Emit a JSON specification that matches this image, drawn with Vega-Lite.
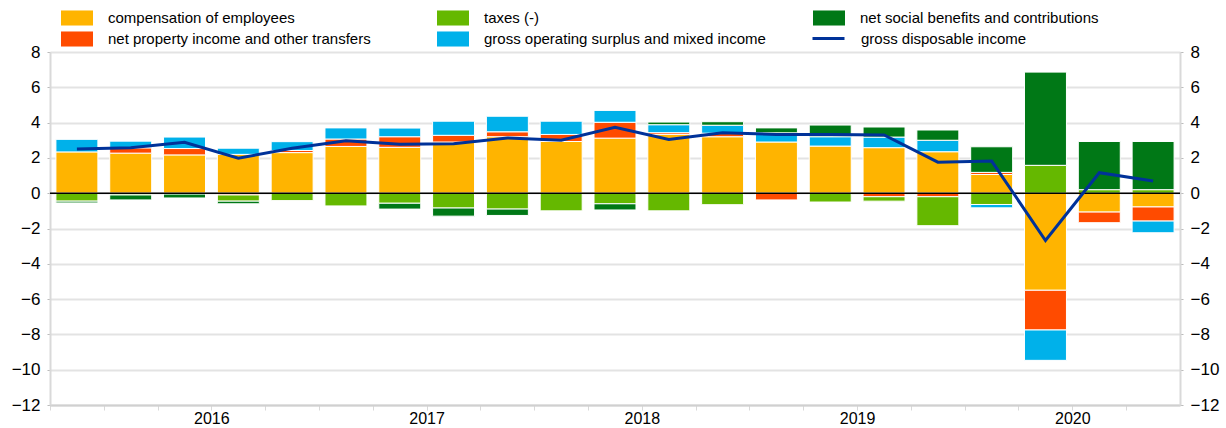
{
  "$schema": "https://vega.github.io/schema/vega-lite/v6.json",
  "width": 1130,
  "height": 353,
  "autosize": {"type": "none"},
  "padding": {"left": 50, "top": 52, "right": 46, "bottom": 23},
  "config": {"font": "Liberation Sans", "view": {"stroke": null}},
  "datasets": {
    "bars": [
      {"q": "2015Q4", "series": "compensation of employees", "k": 1, "value": 2.34},
      {"q": "2015Q4", "series": "taxes (-)", "k": 3, "value": -0.45},
      {"q": "2015Q4", "series": "gross operating surplus and mixed income", "k": 4, "value": 0.71},
      {"q": "2015Q4", "series": "net social benefits and contributions", "k": 5, "value": -0.1},
      {"q": "2016Q1", "series": "compensation of employees", "k": 1, "value": 2.27},
      {"q": "2016Q1", "series": "net property income and other transfers", "k": 2, "value": 0.3},
      {"q": "2016Q1", "series": "taxes (-)", "k": 3, "value": -0.1},
      {"q": "2016Q1", "series": "gross operating surplus and mixed income", "k": 4, "value": 0.38},
      {"q": "2016Q1", "series": "net social benefits and contributions", "k": 5, "value": -0.28},
      {"q": "2016Q2", "series": "compensation of employees", "k": 1, "value": 2.17},
      {"q": "2016Q2", "series": "net property income and other transfers", "k": 2, "value": 0.36},
      {"q": "2016Q2", "series": "taxes (-)", "k": 3, "value": -0.05},
      {"q": "2016Q2", "series": "gross operating surplus and mixed income", "k": 4, "value": 0.65},
      {"q": "2016Q2", "series": "net social benefits and contributions", "k": 5, "value": -0.22},
      {"q": "2016Q3", "series": "compensation of employees", "k": 1, "value": 2.2},
      {"q": "2016Q3", "series": "net property income and other transfers", "k": 2, "value": -0.1},
      {"q": "2016Q3", "series": "taxes (-)", "k": 3, "value": -0.35},
      {"q": "2016Q3", "series": "gross operating surplus and mixed income", "k": 4, "value": 0.35},
      {"q": "2016Q3", "series": "net social benefits and contributions", "k": 5, "value": -0.15},
      {"q": "2016Q4", "series": "compensation of employees", "k": 1, "value": 2.3},
      {"q": "2016Q4", "series": "net property income and other transfers", "k": 2, "value": 0.12},
      {"q": "2016Q4", "series": "taxes (-)", "k": 3, "value": -0.42},
      {"q": "2016Q4", "series": "gross operating surplus and mixed income", "k": 4, "value": 0.5},
      {"q": "2017Q1", "series": "compensation of employees", "k": 1, "value": 2.65},
      {"q": "2017Q1", "series": "net property income and other transfers", "k": 2, "value": 0.42},
      {"q": "2017Q1", "series": "taxes (-)", "k": 3, "value": -0.72},
      {"q": "2017Q1", "series": "gross operating surplus and mixed income", "k": 4, "value": 0.63},
      {"q": "2017Q2", "series": "compensation of employees", "k": 1, "value": 2.6},
      {"q": "2017Q2", "series": "net property income and other transfers", "k": 2, "value": 0.6},
      {"q": "2017Q2", "series": "taxes (-)", "k": 3, "value": -0.57},
      {"q": "2017Q2", "series": "gross operating surplus and mixed income", "k": 4, "value": 0.49},
      {"q": "2017Q2", "series": "net social benefits and contributions", "k": 5, "value": -0.33},
      {"q": "2017Q3", "series": "compensation of employees", "k": 1, "value": 2.9},
      {"q": "2017Q3", "series": "net property income and other transfers", "k": 2, "value": 0.38},
      {"q": "2017Q3", "series": "taxes (-)", "k": 3, "value": -0.84},
      {"q": "2017Q3", "series": "gross operating surplus and mixed income", "k": 4, "value": 0.8},
      {"q": "2017Q3", "series": "net social benefits and contributions", "k": 5, "value": -0.46},
      {"q": "2017Q4", "series": "compensation of employees", "k": 1, "value": 3.2},
      {"q": "2017Q4", "series": "net property income and other transfers", "k": 2, "value": 0.28},
      {"q": "2017Q4", "series": "taxes (-)", "k": 3, "value": -0.9},
      {"q": "2017Q4", "series": "gross operating surplus and mixed income", "k": 4, "value": 0.88},
      {"q": "2017Q4", "series": "net social benefits and contributions", "k": 5, "value": -0.36},
      {"q": "2018Q1", "series": "compensation of employees", "k": 1, "value": 2.93},
      {"q": "2018Q1", "series": "net property income and other transfers", "k": 2, "value": 0.4},
      {"q": "2018Q1", "series": "taxes (-)", "k": 3, "value": -1.0},
      {"q": "2018Q1", "series": "gross operating surplus and mixed income", "k": 4, "value": 0.75},
      {"q": "2018Q2", "series": "compensation of employees", "k": 1, "value": 3.12},
      {"q": "2018Q2", "series": "net property income and other transfers", "k": 2, "value": 0.9},
      {"q": "2018Q2", "series": "taxes (-)", "k": 3, "value": -0.6},
      {"q": "2018Q2", "series": "gross operating surplus and mixed income", "k": 4, "value": 0.67},
      {"q": "2018Q2", "series": "net social benefits and contributions", "k": 5, "value": -0.35},
      {"q": "2018Q3", "series": "compensation of employees", "k": 1, "value": 3.33},
      {"q": "2018Q3", "series": "net property income and other transfers", "k": 2, "value": 0.1},
      {"q": "2018Q3", "series": "taxes (-)", "k": 3, "value": -1.0},
      {"q": "2018Q3", "series": "gross operating surplus and mixed income", "k": 4, "value": 0.45},
      {"q": "2018Q3", "series": "net social benefits and contributions", "k": 5, "value": 0.15},
      {"q": "2018Q4", "series": "compensation of employees", "k": 1, "value": 3.2},
      {"q": "2018Q4", "series": "net property income and other transfers", "k": 2, "value": 0.2},
      {"q": "2018Q4", "series": "taxes (-)", "k": 3, "value": -0.65},
      {"q": "2018Q4", "series": "gross operating surplus and mixed income", "k": 4, "value": 0.45},
      {"q": "2018Q4", "series": "net social benefits and contributions", "k": 5, "value": 0.2},
      {"q": "2019Q1", "series": "compensation of employees", "k": 1, "value": 2.9},
      {"q": "2019Q1", "series": "net property income and other transfers", "k": 2, "value": -0.38},
      {"q": "2019Q1", "series": "gross operating surplus and mixed income", "k": 4, "value": 0.52},
      {"q": "2019Q1", "series": "net social benefits and contributions", "k": 5, "value": 0.28},
      {"q": "2019Q2", "series": "compensation of employees", "k": 1, "value": 2.67},
      {"q": "2019Q2", "series": "taxes (-)", "k": 3, "value": -0.5},
      {"q": "2019Q2", "series": "gross operating surplus and mixed income", "k": 4, "value": 0.53},
      {"q": "2019Q2", "series": "net social benefits and contributions", "k": 5, "value": 0.66},
      {"q": "2019Q3", "series": "compensation of employees", "k": 1, "value": 2.58},
      {"q": "2019Q3", "series": "net property income and other transfers", "k": 2, "value": -0.2},
      {"q": "2019Q3", "series": "taxes (-)", "k": 3, "value": -0.25},
      {"q": "2019Q3", "series": "gross operating surplus and mixed income", "k": 4, "value": 0.6},
      {"q": "2019Q3", "series": "net social benefits and contributions", "k": 5, "value": 0.57},
      {"q": "2019Q4", "series": "compensation of employees", "k": 1, "value": 2.35},
      {"q": "2019Q4", "series": "net property income and other transfers", "k": 2, "value": -0.2},
      {"q": "2019Q4", "series": "taxes (-)", "k": 3, "value": -1.64},
      {"q": "2019Q4", "series": "gross operating surplus and mixed income", "k": 4, "value": 0.65},
      {"q": "2019Q4", "series": "net social benefits and contributions", "k": 5, "value": 0.58},
      {"q": "2020Q1", "series": "compensation of employees", "k": 1, "value": 1.06},
      {"q": "2020Q1", "series": "net property income and other transfers", "k": 2, "value": 0.12},
      {"q": "2020Q1", "series": "taxes (-)", "k": 3, "value": -0.64},
      {"q": "2020Q1", "series": "gross operating surplus and mixed income", "k": 4, "value": -0.19},
      {"q": "2020Q1", "series": "net social benefits and contributions", "k": 5, "value": 1.45},
      {"q": "2020Q2", "series": "compensation of employees", "k": 1, "value": -5.5},
      {"q": "2020Q2", "series": "net property income and other transfers", "k": 2, "value": -2.25},
      {"q": "2020Q2", "series": "taxes (-)", "k": 3, "value": 1.58},
      {"q": "2020Q2", "series": "gross operating surplus and mixed income", "k": 4, "value": -1.72},
      {"q": "2020Q2", "series": "net social benefits and contributions", "k": 5, "value": 5.28},
      {"q": "2020Q3", "series": "compensation of employees", "k": 1, "value": -1.07},
      {"q": "2020Q3", "series": "net property income and other transfers", "k": 2, "value": -0.6},
      {"q": "2020Q3", "series": "taxes (-)", "k": 3, "value": 0.2},
      {"q": "2020Q3", "series": "net social benefits and contributions", "k": 5, "value": 2.73},
      {"q": "2020Q4", "series": "compensation of employees", "k": 1, "value": -0.78},
      {"q": "2020Q4", "series": "net property income and other transfers", "k": 2, "value": -0.8},
      {"q": "2020Q4", "series": "taxes (-)", "k": 3, "value": 0.2},
      {"q": "2020Q4", "series": "gross operating surplus and mixed income", "k": 4, "value": -0.66},
      {"q": "2020Q4", "series": "net social benefits and contributions", "k": 5, "value": 2.73}
    ],
    "line": [
      {"q": "2015Q4", "gdi": 2.5},
      {"q": "2016Q1", "gdi": 2.57},
      {"q": "2016Q2", "gdi": 2.88},
      {"q": "2016Q3", "gdi": 1.98},
      {"q": "2016Q4", "gdi": 2.55},
      {"q": "2017Q1", "gdi": 2.97},
      {"q": "2017Q2", "gdi": 2.78},
      {"q": "2017Q3", "gdi": 2.8},
      {"q": "2017Q4", "gdi": 3.13},
      {"q": "2018Q1", "gdi": 3.0},
      {"q": "2018Q2", "gdi": 3.73},
      {"q": "2018Q3", "gdi": 3.05},
      {"q": "2018Q4", "gdi": 3.43},
      {"q": "2019Q1", "gdi": 3.33},
      {"q": "2019Q2", "gdi": 3.33},
      {"q": "2019Q3", "gdi": 3.3},
      {"q": "2019Q4", "gdi": 1.76},
      {"q": "2020Q1", "gdi": 1.82},
      {"q": "2020Q2", "gdi": -2.68},
      {"q": "2020Q3", "gdi": 1.16},
      {"q": "2020Q4", "gdi": 0.69}
    ]
  },
  "layer": [
    {
      "data": {"name": "bars"},
      "mark": {"type": "bar", "stroke": "white", "strokeWidth": 1},
      "encoding": {
        "x": {
          "field": "q", "type": "ordinal",
          "scale": {"paddingInner": 0.22, "paddingOuter": 0.11},
          "axis": {
            "title": null, "bandPosition": 0, "tickOffset": -6, "labelOffset": -21, "labelAngle": 0,
            "labelExpr": "indexof(datum.value, 'Q3') > 0 ? substring(datum.value, 0, 4) : ''",
            "tickSize": 5, "tickColor": "#d9d9d9", "domainColor": "#d0d0d0", "domainWidth": 2,
            "labelFontSize": 16, "labelColor": "#000000", "labelPadding": 0, "grid": false
          }
        },
        "y": {
          "field": "value", "type": "quantitative", "stack": "zero",
          "scale": {"domain": [-12, 8], "nice": false, "zero": false},
          "axis": {
            "orient": "left", "title": null, "values": [-12, -10, -8, -6, -4, -2, 0, 2, 4, 6, 8],
            "grid": true, "gridColor": "#e3e3e3", "gridWidth": 2,
            "domainColor": "#d9d9d9", "domainWidth": 2, "tickColor": "#bbbbbb", "tickSize": 3,
            "labelFontSize": 17, "labelColor": "#000000", "labelPadding": 7
          }
        },
        "color": {
          "field": "series", "type": "nominal",
          "scale": {
            "domain": ["compensation of employees", "net property income and other transfers", "taxes (-)", "gross operating surplus and mixed income", "net social benefits and contributions"],
            "range": ["#FFB400", "#FF4B00", "#65B800", "#00B1EA", "#007816"]
          },
          "legend": {
            "title": null, "orient": "none", "legendX": 19, "legendY": -42,
            "columns": 3, "gridAlign": "all", "columnPadding": 47, "rowPadding": 5,
            "symbolType": "M-2,-0.94H2V0.94H-2Z", "symbolSize": 256, "symbolStrokeWidth": 0,
            "labelFontSize": 15, "labelOffset": 23, "labelLimit": 500, "labelColor": "#000000"
          }
        },
        "order": {"field": "k", "type": "quantitative"}
      }
    },
    {
      "data": {"values": [{}]},
      "mark": {"type": "rule", "color": "#000000", "strokeWidth": 1.5},
      "encoding": {"y": {"datum": 0, "type": "quantitative", "axis": null}}
    },
    {
      "data": {"name": "line"},
      "mark": {"type": "line", "strokeWidth": 3},
      "encoding": {
        "x": {"field": "q", "type": "ordinal"},
        "y": {
          "field": "gdi", "type": "quantitative",
          "axis": {
            "orient": "right", "title": null, "values": [-12, -10, -8, -6, -4, -2, 0, 2, 4, 6, 8],
            "grid": false, "domainColor": "#d9d9d9", "domainWidth": 2, "tickColor": "#bbbbbb", "tickSize": 3,
            "labelFontSize": 17, "labelColor": "#000000", "labelPadding": 7
          }
        },
        "stroke": {
          "datum": "gross disposable income", "type": "nominal",
          "scale": {"range": ["#003299"]},
          "legend": {
            "title": null, "orient": "none", "legendX": 761, "legendY": -31,
            "symbolType": "stroke", "symbolSize": 1024, "symbolStrokeWidth": 3,
            "labelFontSize": 15, "labelOffset": 15, "labelLimit": 500, "labelColor": "#000000"
          }
        }
      }
    }
  ],
  "resolve": {"axis": {"y": "independent"}}
}
